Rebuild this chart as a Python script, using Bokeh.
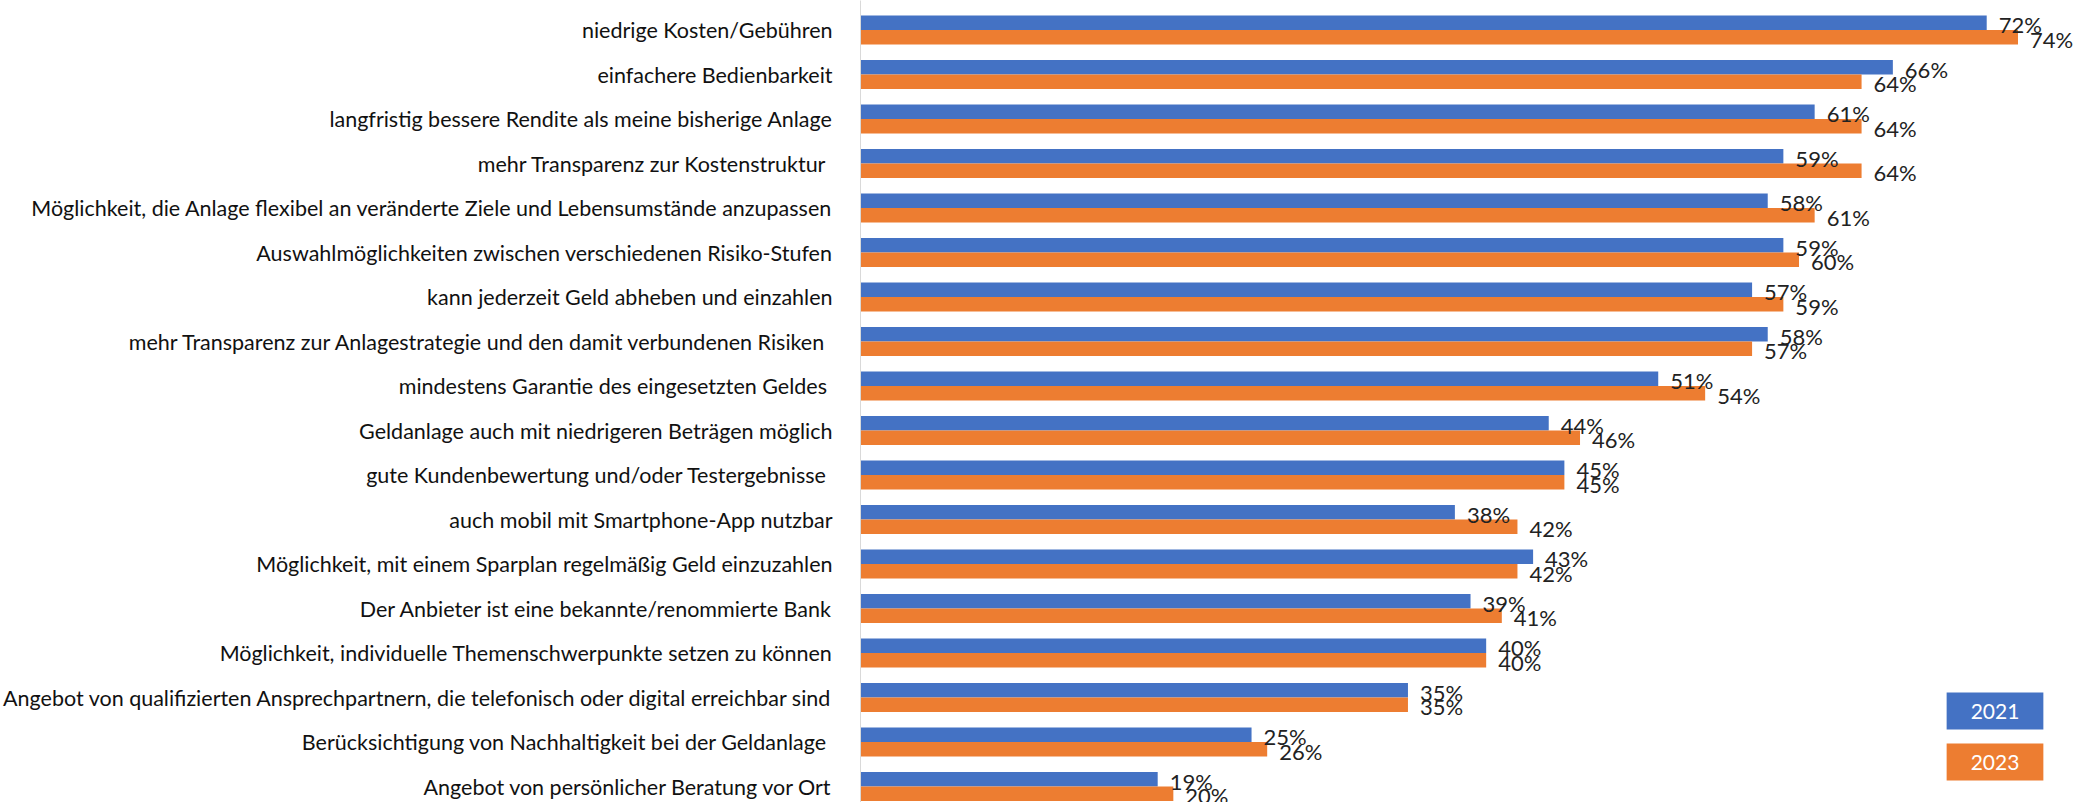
from bokeh.plotting import figure
from bokeh.models import Range1d, FixedTicker, ColumnDataSource, Label
from bokeh.core.properties import value
from bokeh.embed import file_html
from bokeh.resources import INLINE

categories = [
    "niedrige Kosten/Gebühren",
    "einfachere Bedienbarkeit",
    "langfristig bessere Rendite als meine bisherige Anlage",
    "mehr Transparenz zur Kostenstruktur ",
    "Möglichkeit, die Anlage flexibel an veränderte Ziele und Lebensumstände anzupassen",
    "Auswahlmöglichkeiten zwischen verschiedenen Risiko-Stufen",
    "kann jederzeit Geld abheben und einzahlen",
    "mehr Transparenz zur Anlagestrategie und den damit verbundenen Risiken ",
    "mindestens Garantie des eingesetzten Geldes ",
    "Geldanlage auch mit niedrigeren Beträgen möglich",
    "gute Kundenbewertung und/oder Testergebnisse ",
    "auch mobil mit Smartphone-App nutzbar",
    "Möglichkeit, mit einem Sparplan regelmäßig Geld einzuzahlen",
    "Der Anbieter ist eine bekannte/renommierte Bank",
    "Möglichkeit, individuelle Themenschwerpunkte setzen zu können",
    "Angebot von qualifizierten Ansprechpartnern, die telefonisch oder digital erreichbar sind",
    "Berücksichtigung von Nachhaltigkeit bei der Geldanlage ",
    "Angebot von persönlicher Beratung vor Ort",
]
values_2021 = [72, 66, 61, 59, 58, 59, 57, 58, 51, 44, 45, 38, 43, 39, 40, 35, 25, 19]
values_2023 = [74, 64, 64, 64, 61, 60, 59, 57, 54, 46, 45, 42, 42, 41, 40, 35, 26, 20]
series_names = ["2021", "2023"]

BLUE = "#4472C4"
ORANGE = "#ED7D31"
FONT = "Lato"

W, H = 2090, 802
LEFT = 857
px_per_cat = 44.5
px_per_pct = 15.68
top_val = -29.5 / px_per_cat
bottom_val = top_val + H / px_per_cat
x_end = (W - LEFT) / px_per_pct

idx = list(range(len(categories)))
bar_h = 0.326
src21 = ColumnDataSource(dict(y=[i - bar_h / 2 for i in idx], v=values_2021,
                              lab=[f"{v}%" for v in values_2021]))
src23 = ColumnDataSource(dict(y=[i + bar_h / 2 for i in idx], v=values_2023,
                              lab=[f"{v}%" for v in values_2023]))

p = figure(width=W, height=H, output_backend="svg", toolbar_location=None,
           x_range=Range1d(0, x_end), y_range=Range1d(bottom_val, top_val),
           min_border_left=LEFT, min_border_right=0, min_border_top=0, min_border_bottom=0)
p.outline_line_color = None
p.xgrid.visible = False
p.ygrid.visible = False
p.xaxis.visible = False

p.hbar(y="y", left=0, right="v", height=bar_h, source=src21, color=BLUE, line_color=None)
p.hbar(y="y", left=0, right="v", height=bar_h, source=src23, color=ORANGE, line_color=None)

for src in (src21, src23):
    p.text(x="v", y="y", text="lab", source=src, x_offset=12, y_offset=2,
           text_baseline="middle", text_align="left",
           text_font=value(FONT), text_font_size="22px", text_color="#222222")

yax = p.yaxis[0]
yax.ticker = FixedTicker(ticks=idx)
yax.major_label_overrides = {i: c for i, c in zip(idx, categories)}
yax.major_label_text_font = FONT
yax.major_label_text_font_size = "21.5px"
yax.major_label_text_color = "#111111"
yax.major_label_standoff = 22
yax.major_tick_line_color = None
yax.minor_tick_line_color = None
yax.axis_line_color = "#D9D9D9"
yax.axis_line_width = 1

legend_y = [H - 710.5, H - 761.5]
for name, col, ly in zip(series_names, [BLUE, ORANGE], legend_y):
    p.add_layout(Label(x=1134.5, y=ly, x_units="screen", y_units="screen", text=name,
                       text_align="center", text_baseline="middle",
                       text_font=FONT, text_font_size="21px", text_color="white",
                       background_fill_color=col,
                       padding=dict(left=24, right=24, top=11, bottom=11)))

open("out.html", "w").write(file_html(p, INLINE))
